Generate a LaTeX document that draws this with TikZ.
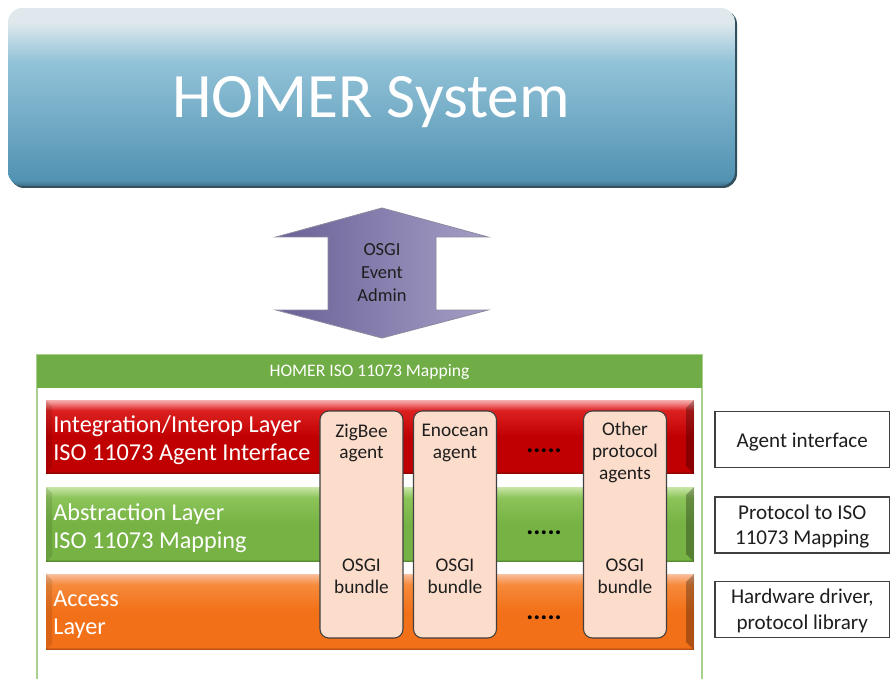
\documentclass[tikz,border=0pt]{standalone}
\usepackage{fontspec}
\setmainfont{Carlito}
\usetikzlibrary{positioning}

\definecolor{homerA}{HTML}{DFE8EC}
\definecolor{homerB}{HTML}{92C3D8}
\definecolor{homerC}{HTML}{5292B2}
\definecolor{homerD}{HTML}{3B6F88}
\definecolor{homershadow}{HTML}{33505E}
\definecolor{redA}{HTML}{F6B0B0}
\definecolor{redB}{HTML}{F08080}
\definecolor{redC}{HTML}{DC2020}
\definecolor{redD}{HTML}{C00000}
\definecolor{redE}{HTML}{7A0000}
\definecolor{grnA}{HTML}{C8E6A8}
\definecolor{grnB}{HTML}{B4DA8C}
\definecolor{grnC}{HTML}{8CC45A}
\definecolor{grnD}{HTML}{76B244}
\definecolor{grnE}{HTML}{4A7A2A}
\definecolor{orgA}{HTML}{FAC0A0}
\definecolor{orgB}{HTML}{F8AA78}
\definecolor{orgC}{HTML}{F68A3A}
\definecolor{orgD}{HTML}{F27018}
\definecolor{orgE}{HTML}{A04510}
\definecolor{arrowL}{HTML}{6A6096}
\definecolor{arrowR}{HTML}{A49FC6}
\definecolor{arrowline}{HTML}{8A8AA0}
\definecolor{hdrgreen}{HTML}{70AD47}
\definecolor{boxgreen}{HTML}{A9D18E}
\definecolor{agentfill}{HTML}{FCDCCA}
\definecolor{darkline}{HTML}{404040}
\definecolor{txtgray}{HTML}{1E1E1E}

\pgfdeclareverticalshading{homershade}{100bp}{color(0bp)=(homerD); color(25bp)=(homerD); color(26.5bp)=(homerC); color(60bp)=(homerB); color(71bp)=(homerA); color(75bp)=(homerA); color(100bp)=(homerA)}
\pgfdeclareverticalshading{redshade}{100bp}{color(0bp)=(redE); color(25bp)=(redE); color(27bp)=(redD); color(50bp)=(redD); color(68bp)=(redC); color(72.5bp)=(redB); color(75bp)=(redA); color(100bp)=(redA)}
\pgfdeclareverticalshading{grnshade}{100bp}{color(0bp)=(grnE); color(25bp)=(grnE); color(27bp)=(grnD); color(50bp)=(grnD); color(68bp)=(grnC); color(72.5bp)=(grnB); color(75bp)=(grnA); color(100bp)=(grnA)}
\pgfdeclareverticalshading{orgshade}{100bp}{color(0bp)=(orgE); color(25bp)=(orgE); color(27bp)=(orgD); color(50bp)=(orgD); color(68bp)=(orgC); color(72.5bp)=(orgB); color(75bp)=(orgA); color(100bp)=(orgA)}

\begin{document}
\begin{tikzpicture}[x=0.02cm, y=-0.02cm,
  bar/.style={shade, minimum width=12.96cm, inner sep=0pt},
  bartxt/.style={text=white, align=left, anchor=west, inner sep=0pt, font=\fontsize{13.8}{16}\selectfont},
  agent/.style={draw=darkline, fill=agentfill, rounded corners=5pt, line width=0.6pt, minimum width=1.66cm, minimum height=4.54cm},
  agenttxt/.style={align=center, text=txtgray, inner sep=0pt, font=\fontsize{11}{12.5}\selectfont},
  dots/.style={text=black, inner sep=0pt, font=\fontsize{15}{15}\bfseries\selectfont},
  note/.style={draw=darkline, fill=white, line width=0.7pt, minimum width=3.49cm, minimum height=1.12cm},
  notetxt/.style={align=center, text=txtgray, inner sep=0pt, font=\fontsize{12}{14.5}\selectfont}]
\clip (0,0) rectangle (890,679);
\fill [white] (0,0) rectangle (890,679);

\fill [homershadow, rounded corners=8pt] (10,10) rectangle (737,188);
\node [shade, shading=homershade, rounded corners=8pt, minimum width=14.54cm, minimum height=3.56cm] (homer) at (371.5,97) {};
\node [text=white, font=\fontsize{36}{40}\selectfont] (homertxt) at (371,102) {HOMER System};

\shade [left color=arrowL, right color=arrowR, draw=arrowline, line width=0.5pt] (382,208) -- (488,237) -- (436,237) -- (436,310) -- (488,310) -- (382,338) -- (276,310) -- (328,310) -- (328,237) -- (276,237) -- cycle;
\node [align=center, text=txtgray, font=\fontsize{10.5}{13.2}\selectfont] (osgi) at (382,272.5) {OSGI\\Event\\Admin};

\draw [boxgreen, line width=1.2pt] (37,355) rectangle (702,720);
\node [fill=hdrgreen, minimum width=13.3cm, minimum height=0.66cm, inner sep=0pt, text=white, font=\fontsize{10}{12}\selectfont] (mapping) at (369.5,371.5) {HOMER ISO 11073 Mapping};

\node [bar, shading=redshade, minimum height=1.48cm] (integ) at (370,437) {};
\node [bar, shading=grnshade, minimum height=1.5cm] (abstr) at (370,524.5) {};
\node [bar, shading=orgshade, minimum height=1.52cm] (access) at (370,612) {};
\foreach \t/\b in {400/474, 487/562, 574/650} {
  \fill [black, opacity=0.28] (686,\t+8) -- (694,\t) -- (694,\b) -- (686,\b-8) -- cycle;
  \fill [black, opacity=0.10] (46,\t) -- (52,\t+6) -- (52,\b-6) -- (46,\b) -- cycle;
}
\node [bartxt] (integtxt) at (53,440) {Integration/Interop Layer\\ISO 11073 Agent Interface};
\node [bartxt] (abstrtxt) at (53,528) {Abstraction Layer\\ISO 11073 Mapping};
\node [bartxt] (accesstxt) at (53,615) {Access\\Layer};

\node [agent] (zigbee) at (361.5,524.5) {};
\node [agent] (enocean) at (455,524.5) {};
\node [agent] (other) at (625,524.5) {};
\node [agenttxt] (zigbeetxt) at (361.5,443) {ZigBee\\agent};
\node [agenttxt] (enoceantxt) at (455,443) {Enocean\\agent};
\node [agenttxt] (othertxt) at (625,452.5) {Other\\protocol\\agents};
\node [agenttxt] (zigbeebdl) at (361.5,576.5) {OSGI\\bundle};
\node [agenttxt] (enoceanbdl) at (455,576.5) {OSGI\\bundle};
\node [agenttxt] (otherbdl) at (625,576.5) {OSGI\\bundle};

\node [dots] (dotsA) at (544,451) {.....};
\node [dots] (dotsB) at (544,533) {.....};
\node [dots] (dotsC) at (544,618) {.....};

\node [note] (noteA) at (802.25,439.5) {};
\node [note] (noteB) at (802.25,525) {};
\node [note] (noteC) at (802.25,609.5) {};
\node [notetxt] (noteAtxt) at (802.25,442) {Agent interface};
\node [notetxt] (noteBtxt) at (802.25,526.5) {Protocol to ISO\\11073 Mapping};
\node [notetxt] (noteCtxt) at (802.25,611) {Hardware driver,\\protocol library};
\end{tikzpicture}
\end{document}
